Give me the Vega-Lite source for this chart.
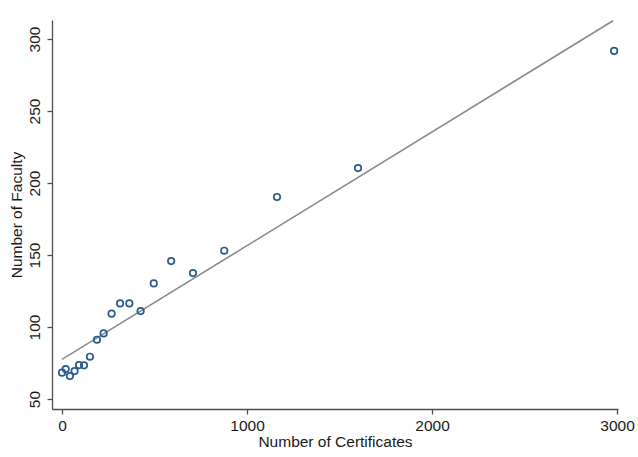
{
  "$schema": "https://vega.github.io/schema/vega-lite/v6.json",
  "width": 566,
  "height": 389,
  "autosize": {"type": "none"},
  "padding": {"left": 52, "top": 20, "right": 20, "bottom": 48},
  "background": "white",
  "config": {
    "view": {"stroke": null},
    "font": "Liberation Sans",
    "axis": {
      "grid": false,
      "domainColor": "#4d4d4d",
      "domainWidth": 1.3,
      "tickColor": "#4d4d4d",
      "tickWidth": 1.3,
      "tickSize": 5,
      "labelFont": "Liberation Sans",
      "titleFont": "Liberation Sans",
      "labelFontSize": 15.5,
      "titleFontSize": 15.5,
      "labelColor": "#1a1a1a",
      "titleColor": "#1a1a1a",
      "titleFontWeight": "normal"
    }
  },
  "datasets": {
    "pts": [
      {"cert": 0, "fac": 68.3},
      {"cert": 20, "fac": 70.8},
      {"cert": 43, "fac": 66},
      {"cert": 68, "fac": 69.4},
      {"cert": 92, "fac": 73.6},
      {"cert": 119, "fac": 73.4},
      {"cert": 151, "fac": 79.4},
      {"cert": 189, "fac": 91.2},
      {"cert": 225, "fac": 95.6},
      {"cert": 268, "fac": 109.3},
      {"cert": 314, "fac": 116.4},
      {"cert": 364, "fac": 116.4},
      {"cert": 425, "fac": 111.1},
      {"cert": 496, "fac": 130.3},
      {"cert": 590, "fac": 145.8},
      {"cert": 708, "fac": 137.5},
      {"cert": 877, "fac": 153},
      {"cert": 1162, "fac": 190.3},
      {"cert": 1600, "fac": 210.4},
      {"cert": 2984, "fac": 291.7}
    ],
    "fit": [
      {"cert": 0, "fac": 77.6},
      {"cert": 2978, "fac": 312.7}
    ]
  },
  "layer": [
    {
      "data": {"name": "fit"},
      "mark": {"type": "line", "color": "#8a8a8a", "strokeWidth": 1.6},
      "encoding": {
        "x": {"field": "cert", "type": "quantitative"},
        "y": {"field": "fac", "type": "quantitative"}
      }
    },
    {
      "data": {"name": "pts"},
      "mark": {"type": "point", "shape": "circle", "filled": false, "color": "#2b5b8e", "strokeWidth": 1.7, "size": 42, "opacity": 1},
      "encoding": {
        "x": {
          "field": "cert", "type": "quantitative",
          "scale": {"domain": [-54, 3005], "nice": false, "zero": false},
          "axis": {"values": [0, 1000, 2000, 3000], "format": "d", "title": "Number of Certificates", "labelPadding": 4, "titlePadding": 1, "labelFlush": false}
        },
        "y": {
          "field": "fac", "type": "quantitative",
          "scale": {"domain": [43.1, 313.2], "nice": false, "zero": false},
          "axis": {"values": [50, 100, 150, 200, 250, 300], "format": "d", "title": "Number of Faculty", "labelAngle": 270, "labelAlign": "center", "labelBaseline": "bottom", "labelPadding": 5, "titlePadding": 3, "labelFlush": false}
        }
      }
    }
  ]
}
